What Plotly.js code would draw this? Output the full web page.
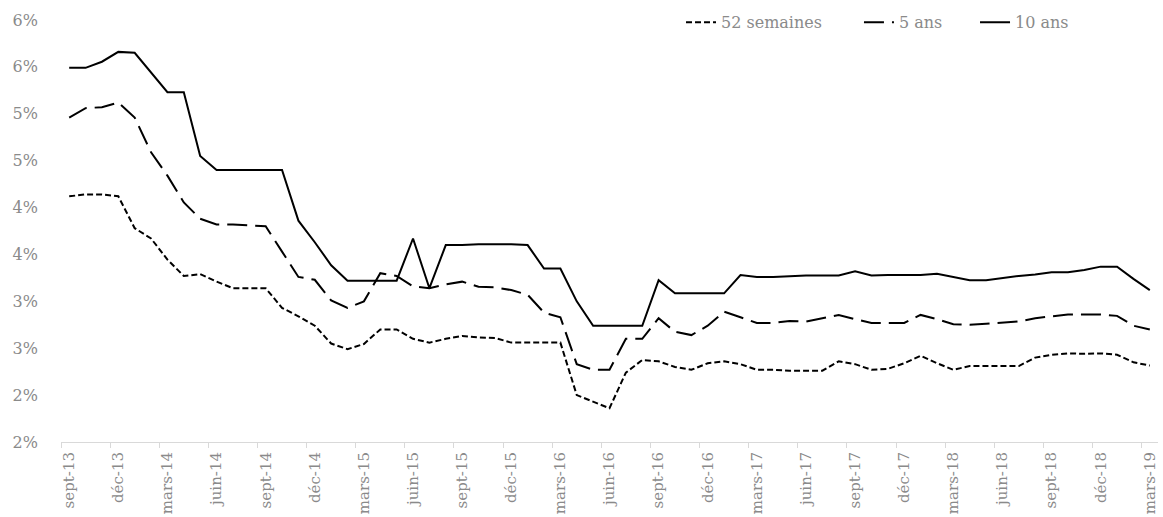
<!DOCTYPE html>
<html>
<head>
<meta charset="utf-8">
<script src="https://cdn.plot.ly/plotly-3.0.1.min.js"></script>
<style>html,body{margin:0;padding:0;background:#fff}#chart{width:1163px;height:517px}</style>
</head>
<body>
<div id="chart"></div>
<script>
// Categories (monthly, sept-13 .. mars-19)
const months = [
  "sept-13","oct-13","nov-13","déc-13",
  "janv-14","févr-14","mars-14","avr-14","mai-14","juin-14","juil-14","août-14","sept-14","oct-14","nov-14","déc-14",
  "janv-15","févr-15","mars-15","avr-15","mai-15","juin-15","juil-15","août-15","sept-15","oct-15","nov-15","déc-15",
  "janv-16","févr-16","mars-16","avr-16","mai-16","juin-16","juil-16","août-16","sept-16","oct-16","nov-16","déc-16",
  "janv-17","févr-17","mars-17","avr-17","mai-17","juin-17","juil-17","août-17","sept-17","oct-17","nov-17","déc-17",
  "janv-18","févr-18","mars-18","avr-18","mai-18","juin-18","juil-18","août-18","sept-18","oct-18","nov-18","déc-18",
  "janv-19","févr-19","mars-19"
];

// Series (%)
const semaines52 = [
  4.12,4.14,4.14,4.12,3.78,3.67,3.445,3.27,3.29,3.21,3.14,
  3.14,3.14,2.93,2.84,2.74,2.55,2.49,2.545,2.70,2.70,2.60,2.56,
  2.60,2.63,2.615,2.61,2.56,2.56,2.56,2.56,2.00,1.93,1.86,
  2.24,2.375,2.36,2.30,2.27,2.34,2.36,2.33,2.27,2.27,2.26,
  2.26,2.26,2.36,2.33,2.27,2.28,2.34,2.42,2.34,2.27,2.31,2.31,
  2.31,2.31,2.40,2.43,2.445,2.44,2.445,2.43,2.35,2.315
];
const ans5 = [
  4.96,5.06,5.07,5.12,4.96,4.59,4.34,4.055,3.88,3.82,3.82,
  3.81,3.80,3.53,3.26,3.23,3.01,2.93,3.00,3.30,3.27,3.16,3.14,
  3.18,3.21,3.155,3.15,3.12,3.07,2.88,2.83,2.33,2.27,2.27,
  2.60,2.60,2.82,2.675,2.64,2.74,2.89,2.83,2.77,2.77,2.79,
  2.785,2.82,2.855,2.81,2.77,2.77,2.77,2.855,2.81,2.755,2.75,2.76,
  2.77,2.785,2.82,2.84,2.86,2.86,2.86,2.845,2.74,2.70
];
const ans10 = [
  5.49,5.49,5.555,5.66,5.65,5.44,5.23,5.23,4.55,4.40,4.40,
  4.40,4.40,4.40,3.86,3.63,3.385,3.22,3.22,3.22,3.22,3.67,3.14,
  3.60,3.60,3.61,3.61,3.61,3.60,3.35,3.35,3.00,2.74,2.74,
  2.74,2.74,3.226,3.085,3.085,3.085,3.085,3.28,3.26,3.26,3.27,
  3.275,3.275,3.275,3.32,3.275,3.28,3.28,3.28,3.295,3.26,3.226,3.226,
  3.25,3.27,3.285,3.31,3.31,3.335,3.37,3.37,3.24,3.12
];

// Y tick labels
const yTickVals = [1.5,2,2.5,3,3.5,4,4.5,5,5.5,6];
const yTickText = ["2%","2%","3%","3%","4%","4%","5%","5%","6%","6%"];

const FONT = "DejaVu Serif, serif";
const GRAY = "#8a8a8a";
const FS = 16;

const traces = [
  {x: months, y: semaines52, name: "52 semaines", type: "scatter", mode: "lines", legend: "legend",
   line: {color: "#000", width: 2, dash: "6px,3px"}},
  {x: months, y: ans5, name: "5 ans", type: "scatter", mode: "lines", legend: "legend2",
   line: {color: "#000", width: 2, dash: "20px,8px"}},
  {x: months, y: ans10, name: "10 ans", type: "scatter", mode: "lines", legend: "legend3",
   line: {color: "#000", width: 2}}
];

function leg(x) {
  return {orientation: "h", x: x, xanchor: "left", y: 1.035, yanchor: "top",
          font: {family: FONT, size: FS, color: GRAY}, bgcolor: "rgba(0,0,0,0)"};
}

const layout = {
  width: 1163, height: 517,
  margin: {l: 61, r: 5, t: 17, b: 75},
  paper_bgcolor: "#fff", plot_bgcolor: "#fff",
  font: {family: FONT, size: FS, color: GRAY},
  showlegend: true,
  legend: leg(0.5652),
  legend2: leg(0.7274),
  legend3: leg(0.8332),
  xaxis: {
    type: "category", range: [-0.5, 66.5],
    tickmode: "linear", tick0: 0, dtick: 3,
    tickson: "boundaries", ticks: "outside", ticklen: 5, tickcolor: "#d9d9d9",
    showline: true, linecolor: "#d9d9d9", linewidth: 1,
    showgrid: false, zeroline: false,
    tickangle: -90, ticklabelstandoff: 3,
    tickfont: {family: FONT, size: 15, color: GRAY}
  },
  yaxis: {
    range: [1.5, 6.0], tickmode: "array", tickvals: yTickVals, ticktext: yTickText,
    showgrid: false, zeroline: false, showline: false, ticks: "",
    ticklabelstandoff: 22,
    tickfont: {family: FONT, size: FS, color: GRAY}
  }
};

Plotly.newPlot("chart", traces, layout, {displayModeBar: false, staticPlot: true});
</script>
</body>
</html>
